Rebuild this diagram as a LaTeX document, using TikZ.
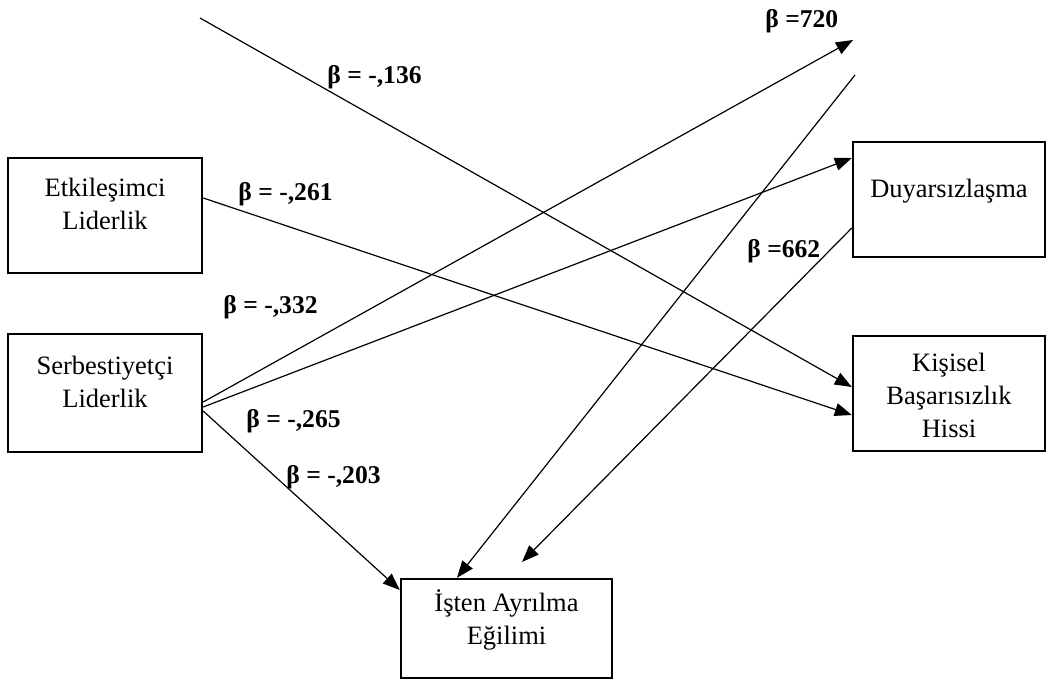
\documentclass[tikz,border=0pt]{standalone}
\usepackage{fontspec}
\setmainfont{Liberation Serif}
\usetikzlibrary{arrows.meta}

\begin{document}
\begin{tikzpicture}[x=0.5pt,y=-0.5pt,
	box/.style={draw,line width=1.2pt,inner sep=0pt,minimum width=97pt,minimum height=57.5pt},
	txt/.style={anchor=north,inner sep=0pt,align=center,font=\fontsize{13.25}{16.5}\selectfont},
	beta/.style={anchor=base west,inner sep=0pt,font=\fontsize{12.8}{15}\selectfont\bfseries},
	eff/.style={line width=0.6pt,-{Triangle[length=8.5pt,width=6.5pt]}}]
	\useasboundingbox (0,0) rectangle (1046,681);
	\node[box] (etk) at (105,215.5) {};
	\node[box,minimum height=59pt] (serb) at (105,393) {};
	\node[box,minimum width=96pt] (duy) at (949,199.5) {};
	\node[box,minimum width=96pt] (kis) at (949,393.5) {};
	\node[box,minimum width=105.5pt,minimum height=49.5pt] (isten) at (506.5,628.5) {};
	\node[txt] (etkT) at ([yshift=-10.5pt]etk.north) {Etkileşimci\\Liderlik};
	\node[txt] (serbT) at ([yshift=-11.5pt]serb.north) {Serbestiyetçi\\Liderlik};
	\node[txt] (duyT) at ([yshift=-19pt]duy.north) {Duyarsızlaşma};
	\node[txt] (kisT) at ([yshift=-9pt]kis.north) {Kişisel\\Başarısızlık\\Hissi};
	\node[txt] (istenT) at ([yshift=-5.5pt]isten.north) {İşten Ayrılma\\Eğilimi};
	\coordinate (p136) at (200,18);
	\coordinate (p720) at (853,40);
	\coordinate (pAyr) at (855,75);
	\coordinate (p662) at (522,562);
	\draw[eff] (p136) -- ([yshift=3.25pt]kis.west);
	\draw[eff] ([yshift=8.75pt]etk.east) -- ([yshift=-10.75pt]kis.west);
	\draw[eff] ([yshift=-4.5pt]serb.east) -- (p720);
	\draw[eff] ([yshift=-7pt]serb.east) -- ([yshift=20.75pt]duy.west);
	\draw[eff] ([yshift=-9pt]serb.east) -- ([yshift=19.25pt]isten.west);
	\draw[eff] (pAyr) -- ([xshift=-24.75pt]isten.north);
	\draw[eff] ([yshift=-14.25pt]duy.west) -- (p662);
	\node[beta] (b136) at (327,83) {β = -,136};
	\node[beta] (b720) at (765,27) {β =720};
	\node[beta] (b261) at (238,200) {β = -,261};
	\node[beta] (b332) at (223,313) {β = -,332};
	\node[beta] (b662) at (747,257) {β =662};
	\node[beta] (b265) at (246,427) {β = -,265};
	\node[beta] (b203) at (286,483) {β = -,203};
\end{tikzpicture}
\end{document}
